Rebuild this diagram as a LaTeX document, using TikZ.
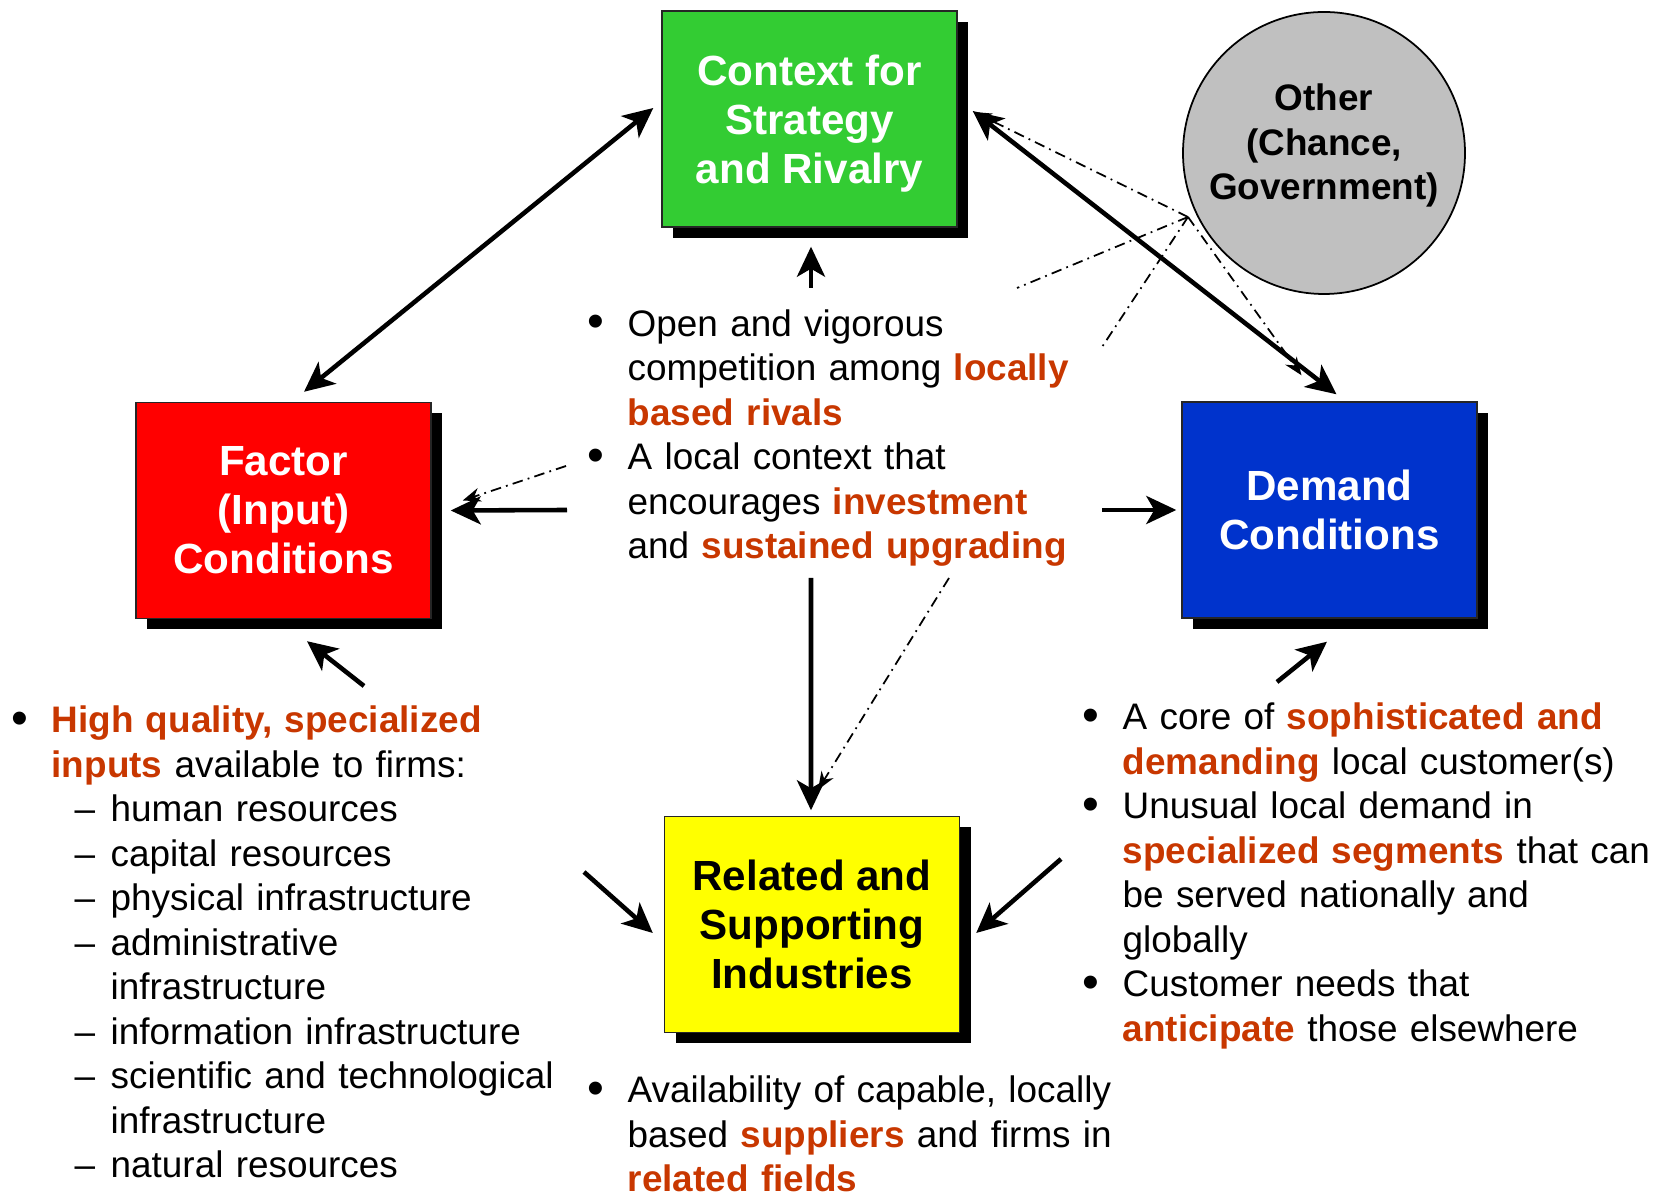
\documentclass[tikz,border=0pt]{standalone}
\usepackage{fontspec}
\setmainfont{Liberation Sans}
\usepackage{tikz}
\usetikzlibrary{arrows.meta, shadows, calc}

% bullet list helpers
\newcommand{\hot}[1]{\textbf{\color{hotC}#1}}
\newcommand{\pbul}{\makebox[0.36cm][l]{\hspace*{-0.04cm}\raisebox{-0.4pt}{\scalebox{1.3}{\textbullet}}}}
\newcommand{\pnl}{\newline\hspace*{0.36cm}}
\newcommand{\pdash}{\newline\hspace*{0.59cm}\makebox[0.36cm][l]{--}}
\newcommand{\pdnl}{\newline\hspace*{0.95cm}}

\begin{document}
\begin{tikzpicture}[
    box/.style={draw=black!85, line width=0.4pt, minimum width=2.95cm, minimum height=2.16cm,
                inner sep=0pt, align=center, text=white,
                font=\fontsize{12}{13.9}\selectfont\bfseries,
                drop shadow={shadow xshift=0.11cm, shadow yshift=-0.11cm, fill=black, opacity=1}},
    txt/.style={inner sep=0pt, align=left, anchor=base west,
                font=\fontsize{10.5}{12.65}\selectfont},
    link/.style={-{Stealth[length=0.3cm, width=0.28cm, inset=0.08cm]}, line width=1.3pt},
    bilink/.style={{Stealth[length=0.3cm, width=0.28cm, inset=0.08cm]}-{Stealth[length=0.3cm, width=0.28cm, inset=0.08cm]}, line width=1.3pt},
    ddline/.style={line width=0.5pt, dash pattern=on 3pt off 1.5pt on 0.5pt off 1.5pt},
    ddlink/.style={ddline, -{Stealth[length=0.18cm, width=0.14cm]}},
]

% Color definitions
\definecolor{rivalC}{RGB}{51,204,51}
\definecolor{factorC}{RGB}{255,0,0}
\definecolor{demandC}{RGB}{0,51,204}
\definecolor{relatedC}{RGB}{255,255,0}
\definecolor{otherC}{RGB}{192,192,192}
\definecolor{hotC}{RGB}{200,55,0}

\useasboundingbox (0,0) rectangle (16.62,-11.96);

% The four corners of the diamond
\node[box, fill=rivalC, text depth=0pt] (context) at (8.095,-1.19) {Context for\\Strategy\\and Rivalry};
\node[box, fill=factorC] (factor) at (2.835,-5.105) {Factor\\(Input)\\Conditions};
\node[box, fill=demandC] (demand) at (13.295,-5.10) {Demand\\Conditions};
\node[box, fill=relatedC, text=black] (related) at (8.12,-9.245) {Related and\\Supporting\\Industries};

% Chance and government
\node[circle, draw, line width=0.5pt, fill=otherC, minimum size=2.82cm, inner sep=0pt, align=center,
      text depth=6.4pt, font=\fontsize{10.5}{12.65}\selectfont\bfseries] (other) at (13.24,-1.53)
  {Other\\(Chance,\\Government)};

% Bullet texts
\node[txt, text width=6cm] (rivaltext) at (5.91,-3.365)
  {\pbul Open and vigorous\pnl competition among \hot{locally}\pnl\hot{based rivals}\newline
   \pbul A local context that\pnl encourages \hot{investment}\pnl and \hot{sustained upgrading}};
\node[txt, text width=6cm] (factortext) at (0.15,-7.33)
  {\pbul\hot{High quality, specialized}\pnl\hot{inputs} available to firms:%
   \pdash human resources\pdash capital resources\pdash physical infrastructure%
   \pdash administrative\pdnl infrastructure\pdash information infrastructure%
   \pdash scientific and technological\pdnl infrastructure\pdash natural resources};
\node[txt, text width=6cm] (demandtext) at (10.86,-7.30)
  {\pbul A core of \hot{sophisticated and}\pnl\hot{demanding} local customer(s)\newline
   \pbul Unusual local demand in\pnl\hot{specialized segments} that can\pnl be served nationally and\pnl globally\newline
   \pbul Customer needs that\pnl\hot{anticipate} those elsewhere};
\node[txt, text width=6cm] (relatedtext) at (5.91,-11.03)
  {\pbul Availability of capable, locally\pnl based \hot{suppliers} and firms in\pnl\hot{related fields}};

% Free ends of the arrows
\coordinate (rivUp) at (8.11,-2.88);
\coordinate (rivLeft) at (5.67,-5.10);
\coordinate (rivRight) at (11.02,-5.10);
\coordinate (rivDown) at (8.11,-5.78);
\coordinate (facUp) at (3.64,-6.86);
\coordinate (demUp) at (12.77,-6.82);
\coordinate (facSide) at (5.84,-8.72);
\coordinate (demSide) at (10.61,-8.59);

% Solid arrows
\draw[bilink] ($(factor.north)+(0.205,0.10)$) -- ($(context.west)+(-0.08,0.11)$);
\draw[bilink] ($(context.east)+(0.15,0.08)$) -- ($(demand.north)+(0.07,0.07)$);
\draw[link] (rivUp) -- ($(context.south)+(0.015,-0.19)$);
\draw[link] (rivLeft) -- ($(factor.east)+(0.19,0)$);
\draw[link] (rivRight) -- ($(demand.west)+(-0.05,0)$);
\draw[link] (rivDown) -- ($(related.north)+(-0.01,0.055)$);
\draw[link] (facUp) -- ($(factor.south)+(0.235,-0.22)$);
\draw[link] (demUp) -- ($(demand.south)+(-0.025,-0.23)$);
\draw[link] (facSide) -- ($(related.west)+(-0.11,-0.085)$);
\draw[link] (demSide) -- ($(related.east)+(0.16,-0.085)$);

% Influence of chance and government (dash-dot, broken behind the text)
\coordinate (hub) at (11.88,-2.17);
\coordinate (toFacA) at (10.17,-2.88);
\coordinate (toFacB) at (5.66,-4.66);
\coordinate (toRelA) at (11.02,-3.47);
\coordinate (toRelB) at (9.49,-5.78);
\draw[ddlink] (hub) -- ($(context.east)+(0.16,0.07)$);
\draw[ddlink] (hub) -- ($(demand.north)+(-0.28,0.26)$);
\draw[ddline] (hub) -- (toFacA);
\draw[ddlink] (toFacB) -- ($(factor.east)+(0.31,0.1)$);
\draw[ddline] (hub) -- (toRelA);
\draw[ddlink] (toRelB) -- ($(related.north)+(0.06,0.26)$);

\end{tikzpicture}
\end{document}
